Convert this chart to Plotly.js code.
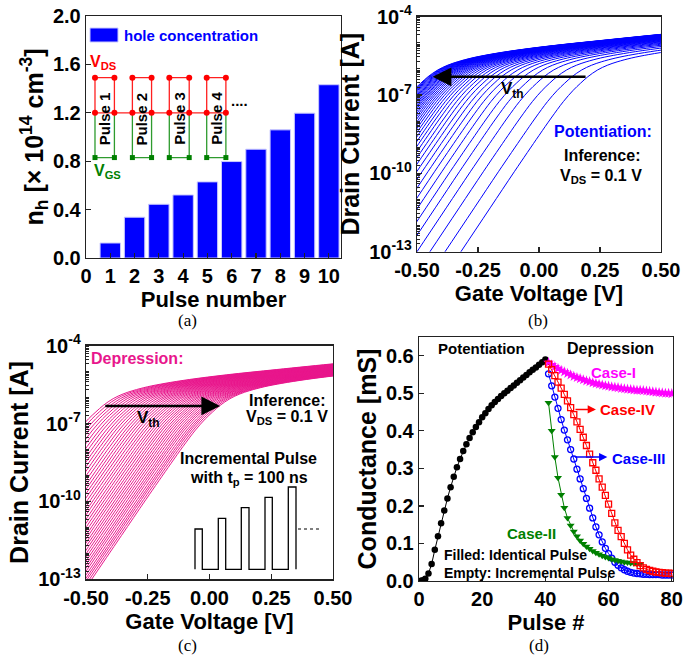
<!DOCTYPE html>
<html><head><meta charset="utf-8">
<script src="https://cdn.plot.ly/plotly-3.0.1.min.js"></script>
<style>html,body{margin:0;padding:0;background:#fff}#chart{width:696px;height:658px}</style>
</head><body><div id="chart"></div>
<script>
// ---------- (a) hole concentration ----------
const pulseNumbers = [1, 2, 3, 4, 5, 6, 7, 8, 9, 10];
const holeConcentration = [0.124, 0.337, 0.444, 0.521, 0.629, 0.797, 0.899, 1.059, 1.197, 1.432];
const barTickLabels = ['0','1','2','3','4','5','6','7','8','9','10'];

// ---------- (b),(c) transfer curves ----------
// common curve shape: gate overdrive (Vg - Vth) vs log10(Id)
const baseOverdrive = [-0.60, -0.52, -0.40, -0.30, -0.20, -0.15, -0.10, -0.06, -0.03, 0.00, 0.04, 0.08, 0.12, 0.18, 0.25, 0.35, 0.50, 0.70, 0.95, 1.10];
const baseLogCurrent = [-14.12, -13.00, -11.32, -9.92, -8.55, -7.88, -7.25, -6.82, -6.55, -6.30, -6.04, -5.86, -5.73, -5.58, -5.45, -5.30, -5.12, -4.92, -4.68, -4.55];
// threshold voltage of each curve (potentiation, panel b)
const vthPotentiation = [0.200, 0.135, 0.073, 0.020, -0.025, -0.063, -0.097, -0.127, -0.154, -0.178, -0.200, -0.220, -0.238, -0.255, -0.270, -0.284, -0.297, -0.309, -0.320, -0.330, -0.339, -0.348, -0.356, -0.364, -0.371, -0.378, -0.384, -0.390, -0.396, -0.402, -0.407, -0.412, -0.417, -0.422, -0.427, -0.432, -0.437, -0.442, -0.446, -0.451, -0.455];
// threshold voltage of each curve (depression, panel c)
const vthDepression = [-0.430, -0.416, -0.401, -0.387, -0.373, -0.359, -0.345, -0.332, -0.318, -0.305, -0.292, -0.279, -0.266, -0.253, -0.240, -0.228, -0.216, -0.204, -0.192, -0.180, -0.168, -0.157, -0.145, -0.134, -0.123, -0.112, -0.101, -0.091, -0.080, -0.070, -0.060, -0.050, -0.040, -0.030, -0.020, -0.011, -0.002, 0.008, 0.017, 0.025, 0.034, 0.043];
const gateTickVals = [-0.5, -0.25, 0, 0.25, 0.5];
const gateTickText = ['-0.50', '-0.25', '0.00', '0.25', '0.50'];
const currentTickVals = [1e-13, 1e-10, 1e-7, 1e-4];
const currentTickText = ['10<sup>-13</sup>', '10<sup>-10</sup>', '10<sup>-7</sup>', '10<sup>-4</sup>'];

// ---------- (d) conductance ----------
const potPulses = [0,1,2,3,4,5,6,7,8,9,10,11,12,13,14,15,16,17,18,19,20,21,22,23,24,25,26,27,28,29,30,31,32,33,34,35,36,37,38,39,40];
const potConductance = [0.000,0.002,0.006,0.020,0.045,0.083,0.119,0.154,0.188,0.220,0.250,0.278,0.303,0.325,0.346,0.364,0.381,0.396,0.410,0.423,0.436,0.447,0.458,0.468,0.477,0.485,0.493,0.500,0.507,0.514,0.521,0.528,0.535,0.542,0.549,0.556,0.563,0.569,0.576,0.583,0.590];
const depPulses = [41,42,43,44,45,46,47,48,49,50,51,52,53,54,55,56,57,58,59,60,61,62,63,64,65,66,67,68,69,70,71,72,73,74,75,76,77,78,79,80];
const depPulsesCaseII = [41,42,43,44,45,46,47,48,49,50,51,52,53,54,55,56,57,58,59,60,61,62,63,64,65,66,67,68,69,70];
const caseI = [0.582,0.576,0.571,0.566,0.561,0.557,0.553,0.549,0.545,0.542,0.539,0.536,0.533,0.531,0.528,0.526,0.524,0.522,0.520,0.519,0.517,0.516,0.515,0.513,0.512,0.511,0.510,0.509,0.508,0.508,0.507,0.506,0.505,0.504,0.503,0.502,0.501,0.500,0.500,0.499];
const caseII = [0.475,0.400,0.330,0.275,0.230,0.195,0.168,0.148,0.132,0.119,0.108,0.099,0.092,0.086,0.080,0.075,0.071,0.067,0.064,0.061,0.058,0.056,0.054,0.052,0.050,0.049,0.048,0.047,0.046,0.045];
const caseIII = [0.552,0.520,0.490,0.460,0.430,0.402,0.376,0.350,0.325,0.298,0.272,0.246,0.220,0.194,0.168,0.144,0.123,0.104,0.087,0.073,0.061,0.050,0.042,0.035,0.030,0.026,0.023,0.021,0.020,0.019,0.018,0.018,0.017,0.017,0.017,0.017,0.016,0.016,0.016,0.016];
const caseIV = [0.578,0.563,0.547,0.530,0.514,0.497,0.480,0.462,0.443,0.424,0.404,0.383,0.361,0.338,0.315,0.295,0.272,0.250,0.228,0.205,0.180,0.155,0.135,0.118,0.100,0.083,0.069,0.058,0.049,0.041,0.035,0.031,0.028,0.026,0.024,0.023,0.022,0.021,0.021,0.020];

// ---------- layout helpers ----------
const W = 696, H = 658;
const FONT = 'Liberation Sans, Arial, sans-serif';
const px = x => x / W, py = y => 1 - y / H;
const PINK = '#E8168C';

function ann(text, x, y, o) {
  o = o || {};
  return Object.assign({
    text: text, x: px(x), y: py(y), xref: 'paper', yref: 'paper', showarrow: false,
    xanchor: 'center', yanchor: 'middle',
    font: {family: FONT, size: o.size || 16, color: o.color || '#000', weight: 'bold'}
  }, o.extra || {});
}
function arrow(xa, ya, head, tail, y, color, width, size) {
  return {x: head, y: y, ax: tail, ay: y, xref: xa, yref: ya, axref: xa, ayref: ya,
    showarrow: true, arrowhead: 2, arrowsize: size, arrowwidth: width, arrowcolor: color, text: ' ',
    font: {family: FONT, size: 2, color: 'rgba(0,0,0,0)'}};
}

// minor tick positions for the log axes (2..9 x each decade)
const logMinor = [];
for (let e = -13; e < -4; e++) for (let k = 1; k <= 9; k++) {
  const v = k * Math.pow(10, e);
  if (!(k === 1 && (e === -13 || e === -10 || e === -7))) logMinor.push(v);
}

const tickFont = {family: FONT, size: 20, color: '#000', weight: 'bold'};
const titleFont = {family: FONT, size: 22, color: '#000', weight: 'bold'};
const yTitleFont = {family: FONT, size: 25, color: '#000', weight: 'bold'};
function axis(o) {
  return Object.assign({
    showline: true, linecolor: '#222', linewidth: 1.3, mirror: true,
    ticks: 'inside', ticklen: 5, tickwidth: 1.2, tickcolor: '#222',
    showgrid: false, zeroline: false, tickfont: tickFont, automargin: false, fixedrange: true
  }, o);
}

const traces = [];

// (a) bars
traces.push({
  type: 'bar', x: pulseNumbers, y: holeConcentration, xaxis: 'x', yaxis: 'y',
  width: 0.84, marker: {color: '#0000FF', line: {color: '#C8C8FF', width: 1}},
  name: 'hole concentration', showlegend: false, hoverinfo: 'skip'
});

// (a) inset pulse schematic
const insetLeft = [0.37, 1.91, 3.43, 4.97], insetRight = [1.17, 2.70, 4.25, 5.76];
const lvTop = 1.49, lvMid = 1.2, lvBot = 0.83;
const redX = [], redY = [], grnX = [], grnY = [], redMx = [], redMy = [], grnMx = [], grnMy = [];
insetLeft.forEach((L, i) => {
  const R = insetRight[i];
  redX.push(L, L, R, R, null); redY.push(lvMid, lvTop, lvTop, lvMid, null);
  grnX.push(L, L, R, R, null); grnY.push(lvMid, lvBot, lvBot, lvMid, null);
  redMx.push(L, R, L, R); redMy.push(lvTop, lvTop, lvMid, lvMid);
  grnMx.push(L, R); grnMy.push(lvBot, lvBot);
});
redX.push(insetLeft[0], insetRight[3]); redY.push(lvMid, lvMid);
traces.push({type: 'scatter', mode: 'lines', x: grnX, y: grnY, xaxis: 'x', yaxis: 'y', line: {color: '#2E9B2E', width: 1.3}, showlegend: false, hoverinfo: 'skip'});
traces.push({type: 'scatter', mode: 'lines', x: redX, y: redY, xaxis: 'x', yaxis: 'y', line: {color: '#FF2020', width: 1.3}, showlegend: false, hoverinfo: 'skip'});
traces.push({type: 'scatter', mode: 'markers', x: redMx, y: redMy, xaxis: 'x', yaxis: 'y', marker: {color: '#FF0000', size: 6, symbol: 'circle'}, showlegend: false, hoverinfo: 'skip'});
traces.push({type: 'scatter', mode: 'markers', x: grnMx, y: grnMy, xaxis: 'x', yaxis: 'y', marker: {color: '#008000', size: 5, symbol: 'square'}, showlegend: false, hoverinfo: 'skip'});

// (b) potentiation curves
vthPotentiation.forEach(v => {
  traces.push({
    type: 'scatter', mode: 'lines', xaxis: 'x2', yaxis: 'y2',
    x: baseOverdrive.map(u => u + v), y: baseLogCurrent.map(l => Math.pow(10, l)),
    line: {color: '#0000FF', width: 1, shape: 'spline', smoothing: 1}, showlegend: false, hoverinfo: 'skip'
  });
});
// (c) depression curves
vthDepression.forEach(v => {
  traces.push({
    type: 'scatter', mode: 'lines', xaxis: 'x3', yaxis: 'y3',
    x: baseOverdrive.map(u => u + v), y: baseLogCurrent.map(l => Math.pow(10, l)),
    line: {color: PINK, width: 1, shape: 'spline', smoothing: 1}, showlegend: false, hoverinfo: 'skip'
  });
});

// (d) conductance
traces.push({type: 'scatter', mode: 'lines+markers', x: potPulses, y: potConductance, xaxis: 'x4', yaxis: 'y4',
  line: {color: '#000', width: 1}, marker: {color: '#000', size: 6.5, symbol: 'circle'}, name: 'Potentiation', showlegend: false});
traces.push({type: 'scatter', mode: 'lines+markers', x: depPulses, y: caseI, xaxis: 'x4', yaxis: 'y4',
  line: {color: '#FF00FF', width: 1}, marker: {color: '#FF00FF', size: 8, symbol: 'star'}, name: 'Case-I', showlegend: false});
traces.push({type: 'scatter', mode: 'lines+markers', x: depPulses, y: caseIII, xaxis: 'x4', yaxis: 'y4',
  line: {color: '#0000FF', width: 1}, marker: {color: '#0000FF', size: 6, symbol: 'circle-open', line: {width: 1.3}}, name: 'Case-III', showlegend: false});
traces.push({type: 'scatter', mode: 'lines+markers', x: depPulsesCaseII, y: caseII, xaxis: 'x4', yaxis: 'y4',
  line: {color: '#008000', width: 1}, marker: {color: '#008000', size: 7, symbol: 'triangle-down'}, name: 'Case-II', showlegend: false});
traces.push({type: 'scatter', mode: 'lines+markers', x: depPulses, y: caseIV, xaxis: 'x4', yaxis: 'y4',
  line: {color: '#FF0000', width: 1}, marker: {color: '#FF0000', size: 6, symbol: 'square-open', line: {width: 1.3}}, name: 'Case-IV', showlegend: false});

// ---------- layout ----------
const logMinorCfg = {tickmode: 'array', tickvals: logMinor, ticks: 'inside', ticklen: 3, tickwidth: 1, tickcolor: '#222'};
const layout = {
  width: W, height: H, margin: {l: 0, r: 0, t: 0, b: 0},
  paper_bgcolor: '#fff', plot_bgcolor: '#fff', showlegend: false,
  font: {family: FONT, color: '#000'},
  xaxis: axis({domain: [px(86), px(341)], anchor: 'y', range: [0, 10.5], tickvals: [0,1,2,3,4,5,6,7,8,9,10], ticktext: barTickLabels,
    title: {text: 'Pulse number', font: titleFont, standoff: 2}}),
  yaxis: axis({domain: [py(258), py(16)], anchor: 'x', range: [0, 2.0], dtick: 0.4, tickformat: '.1f',
    title: {text: 'n<sub>h</sub> [× 10<sup>14</sup> cm<sup>-3</sup>]', font: yTitleFont, standoff: 2}}),
  xaxis2: axis({domain: [px(417), px(661)], anchor: 'y2', range: [-0.5, 0.5], tickvals: gateTickVals, ticktext: gateTickText,
    title: {text: 'Gate Voltage [V]', font: titleFont, standoff: 2}}),
  yaxis2: axis({domain: [py(251.7), py(16.7)], anchor: 'x2', type: 'log', range: [-13, -4], tickvals: currentTickVals, ticktext: currentTickText,
    minor: logMinorCfg, title: {text: 'Drain Current [A]', font: yTitleFont, standoff: 2}}),
  xaxis3: axis({domain: [px(86), px(333)], anchor: 'y3', range: [-0.5, 0.5], tickvals: gateTickVals, ticktext: gateTickText,
    title: {text: 'Gate Voltage [V]', font: titleFont, standoff: 2}}),
  yaxis3: axis({domain: [py(579.3), py(345.7)], anchor: 'x3', type: 'log', range: [-13, -4], tickvals: currentTickVals, ticktext: currentTickText,
    minor: logMinorCfg, title: {text: 'Drain Current [A]', font: yTitleFont, standoff: 2}}),
  xaxis4: axis({domain: [px(419), px(673)], anchor: 'y4', range: [0, 80.4], tickvals: [0, 20, 40, 60, 80],
    title: {text: 'Pulse #', font: titleFont, standoff: 2}}),
  yaxis4: axis({domain: [py(581), py(337)], anchor: 'x4', range: [0, 0.65], tickvals: [0, 0.1, 0.2, 0.3, 0.4, 0.5, 0.6], tickformat: '.1f',
    title: {text: 'Conductance [mS]', font: yTitleFont, standoff: 2}}),
  shapes: [],
  annotations: []
};

// (a) legend box + text
layout.shapes.push({type: 'rect', xref: 'paper', yref: 'paper', x0: px(90), x1: px(118), y0: py(42), y1: py(28),
  fillcolor: '#0000FF', line: {color: '#C8C8FF', width: 1}});
layout.annotations.push(ann('hole concentration', 122, 35, {size: 15, color: '#0000FF', extra: {xanchor: 'left'}}));
layout.annotations.push(ann('V<sub>DS</sub>', 103, 63, {size: 16, color: '#FF0000'}));
layout.annotations.push(ann('V<sub>GS</sub>', 107, 171, {size: 16, color: '#008000'}));
insetLeft.forEach((L, i) => {
  layout.annotations.push({text: 'Pulse ' + (i + 1), x: (L + insetRight[i]) / 2, y: 1.153, xref: 'x', yref: 'y',
    showarrow: false, textangle: -90, font: {family: FONT, size: 15, color: '#000', weight: 'bold'}});
});
layout.annotations.push({text: '....', x: 6.3, y: 1.30, xref: 'x', yref: 'y', showarrow: false,
  font: {family: FONT, size: 15, color: '#000', weight: 'bold'}});

// (b) annotations
layout.annotations.push(arrow('x2', 'y2', -0.436, 0.199, -6.3, '#000', 2.5, 1.5));
layout.annotations.push(ann('V<sub>th</sub>', 512, 90, {size: 17}));
layout.annotations.push(ann('Potentiation:', 603, 132, {size: 16, color: '#0000FF'}));
layout.annotations.push(ann('Inference:', 602, 155, {size: 16}));
layout.annotations.push(ann('V<sub>DS</sub> = 0.1 V', 601, 176, {size: 16}));

// (c) annotations
layout.annotations.push(arrow('x3', 'y3', 0.043, -0.43, -6.32, '#000', 2.5, 1.5));
layout.annotations.push(ann('Depression:', 137, 358, {size: 16, color: PINK}));
layout.annotations.push(ann('V<sub>th</sub>', 148, 419, {size: 17}));
layout.annotations.push(ann('Inference:', 287, 400, {size: 16}));
layout.annotations.push(ann('V<sub>DS</sub> = 0.1 V', 286.5, 418, {size: 16}));
layout.annotations.push(ann('Incremental Pulse', 248, 458, {size: 16}));
layout.annotations.push(ann('with t<sub>p</sub> = 100 ns', 249, 478, {size: 16}));
// (c) incremental pulse train sketch
(function () {
  const base = 569.3;
  const pulses = [[195, 202.3, 529], [218.3, 225.7, 518.3], [241.3, 249, 507.7], [265, 272.3, 497.3], [288.3, 296, 487]];
  let d = '';
  pulses.forEach((p, i) => {
    d += (i === 0 ? 'M' : 'L') + px(p[0]) + ',' + py(base) + ' L' + px(p[0]) + ',' + py(p[2]) +
         ' L' + px(p[1]) + ',' + py(p[2]) + ' L' + px(p[1]) + ',' + py(base) + ' ';
  });
  layout.shapes.push({type: 'path', xref: 'paper', yref: 'paper', path: d, line: {color: '#000', width: 1.3}});
  layout.shapes.push({type: 'line', xref: 'paper', yref: 'paper', x0: px(298), x1: px(321), y0: py(529), y1: py(529),
    line: {color: '#000', width: 1.2, dash: 'dot'}});
})();

// (d) annotations
layout.annotations.push(ann('Potentiation', 481, 349, {size: 15}));
layout.annotations.push(ann('Depression', 610, 349, {size: 16}));
layout.annotations.push(ann('Case-I', 613, 373, {size: 15, color: '#FF00FF'}));
layout.annotations.push(ann('Case-IV', 598, 410, {size: 15, color: '#FF0000', extra: {xanchor: 'left'}}));
layout.annotations.push(ann('Case-III', 610, 458, {size: 15, color: '#0000FF', extra: {xanchor: 'left'}}));
layout.annotations.push(ann('Case-II', 531, 533, {size: 15, color: '#008000'}));
layout.annotations.push(ann('Filled: Identical Pulse', 442, 555, {size: 14, extra: {xanchor: 'left'}}));
layout.annotations.push(ann('Empty: Incremental Pulse', 442, 573, {size: 14, extra: {xanchor: 'left'}}));
layout.annotations.push(arrow('x4', 'y4', 56.0, 48.9, 0.457, '#FF0000', 1.5, 1.1));
layout.annotations.push(arrow('x4', 'y4', 59.6, 48.7, 0.33, '#0000FF', 1.5, 1.1));

// panel labels
const serif = o => Object.assign(o, {font: {family: 'Liberation Serif, Times New Roman, serif', size: 17, color: '#000'}});
layout.annotations.push(serif(ann('(a)', 187, 320)));
layout.annotations.push(serif(ann('(b)', 538, 320)));
layout.annotations.push(serif(ann('(c)', 187, 645)));
layout.annotations.push(serif(ann('(d)', 539, 645)));

Plotly.newPlot('chart', traces, layout, {staticPlot: true, displayModeBar: false});
</script>
</body></html>
